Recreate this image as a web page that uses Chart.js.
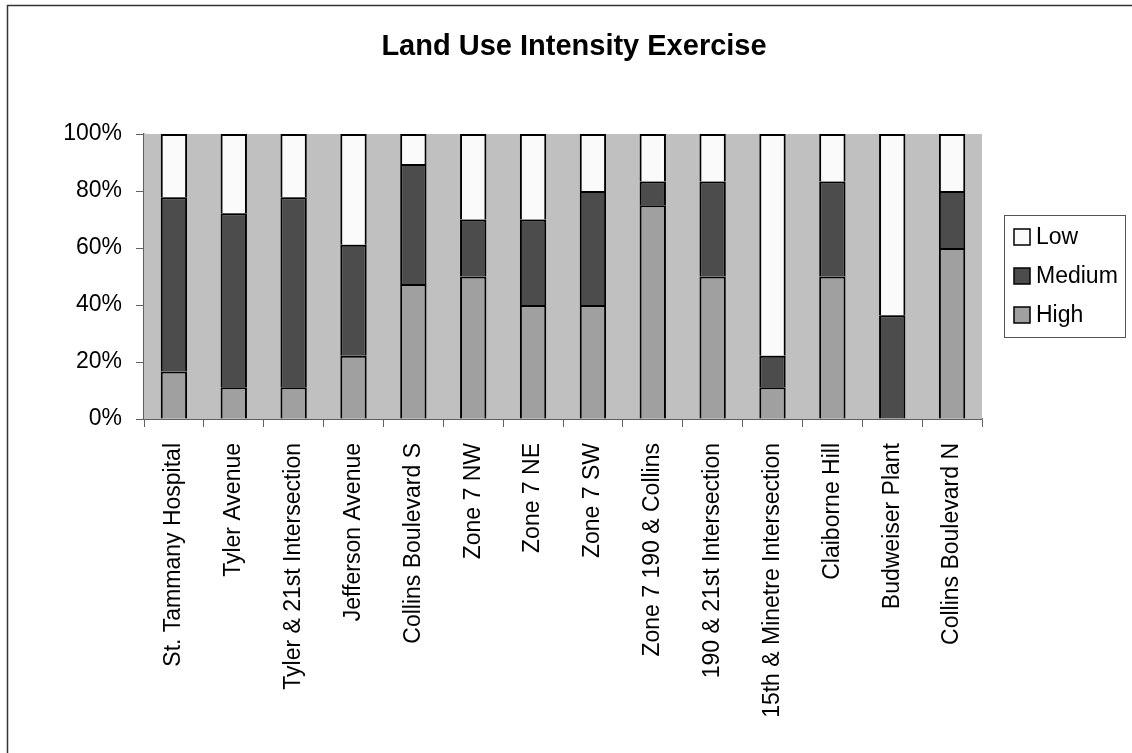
<!DOCTYPE html>
<html>
<head>
<meta charset="utf-8">
<script src="https://cdn.jsdelivr.net/npm/chart.js@4"></script>
<style>
  body { margin: 0; background: #fff; }
  #wrap { width: 1132px; height: 753px; }
</style>
</head>
<body>
<div id="wrap"><canvas id="landUseChart" width="1132" height="753"></canvas></div>
<script>
const sites = [
    'St. Tammany Hospital', 'Tyler Avenue', 'Tyler & 21st Intersection', 'Jefferson Avenue',
    'Collins Boulevard S', 'Zone 7 NW', 'Zone 7 NE', 'Zone 7 SW', 'Zone 7 190 & Collins',
    '190 & 21st Intersection', '15th & Minetre Intersection', 'Claiborne Hill',
    'Budweiser Plant', 'Collins Boulevard N'
];
// percent of each site
const highShare   = [16.7, 11.1, 11.1, 22.2, 47.4, 50, 40, 40, 75, 50, 11.1, 50, 0, 60];
const mediumShare = [61.1, 61.1, 66.7, 38.9, 42.1, 20, 30, 40, 8.3, 33.3, 11.1, 33.3, 36.4, 20];
const lowShare    = [22.2, 27.8, 22.2, 38.9, 10.5, 30, 30, 20, 16.7, 16.7, 77.8, 16.7, 63.6, 20];
const yTicks = [0, 20, 40, 60, 80, 100];

const FONT = '"Liberation Sans", Arial, sans-serif';

// plot background, outer frame and the boxed legend
const excelLook = {
    id: 'excelLook',
    beforeDatasetsDraw(chart) {
        const a = chart.chartArea, ctx = chart.ctx;
        ctx.save();
        ctx.fillStyle = '#C0C0C0';
        ctx.fillRect(a.left, a.top, a.right - a.left, a.bottom - a.top);
        ctx.restore();
    },
    beforeDraw(chart) {
        const ctx = chart.ctx;
        ctx.save();
        ctx.fillStyle = '#fff';
        ctx.fillRect(0, 0, chart.width, chart.height);
        ctx.restore();
    },
    afterDraw(chart) {
        const a = chart.chartArea, ctx = chart.ctx;
        ctx.save();
        ctx.strokeStyle = '#333';
        ctx.lineWidth = 1.5;
        ctx.strokeRect(7.5, 5.5, 1300, 1000);

        const bx = a.right + 22, by = 215;
        ctx.lineWidth = 1;
        ctx.strokeStyle = '#555';
        ctx.strokeRect(bx + 0.5, by + 0.5, 121, 122);
        ctx.font = '23px ' + FONT;
        ctx.textBaseline = 'middle';
        const order = [...chart.data.datasets].reverse();
        order.forEach((ds, i) => {
            const cy = by + 22 + i * 39;
            ctx.fillStyle = ds.backgroundColor;
            ctx.fillRect(bx + 10, cy - 8, 16, 16);
            ctx.strokeStyle = '#000';
            ctx.lineWidth = 1.5;
            ctx.strokeRect(bx + 10, cy - 8, 16, 16);
            ctx.fillStyle = '#000';
            ctx.fillText(ds.label, bx + 32, cy + 1);
        });
        ctx.restore();
    }
};

const barStyle = {
    borderColor: '#000',
    borderWidth: 2,
    categoryPercentage: 1,
    barPercentage: 0.44
};

new Chart(document.getElementById('landUseChart').getContext('2d'), {
    type: 'bar',
    data: {
        labels: sites,
        datasets: [
            { label: 'High', data: highShare, backgroundColor: '#A0A0A0', ...barStyle },
            { label: 'Medium', data: mediumShare, backgroundColor: '#4C4C4C', ...barStyle },
            { label: 'Low', data: lowShare, backgroundColor: '#FAFAFA', ...barStyle }
        ]
    },
    options: {
        responsive: false,
        animation: false,
        layout: { padding: { left: 16, right: 0, top: 0, bottom: 0 } },
        plugins: {
            legend: { display: false },
            tooltip: { enabled: false },
            title: {
                display: true,
                text: 'Land Use Intensity Exercise',
                color: '#000',
                font: { family: FONT, size: 29, weight: 'bold' },
                padding: { top: 30, bottom: 69.2 }
            }
        },
        scales: {
            x: {
                stacked: true,
                grid: { drawOnChartArea: false, drawTicks: true, tickLength: 8, color: '#606060' },
                border: { color: '#606060', width: 1.5 },
                ticks: {
                    autoSkip: false, maxRotation: 90, minRotation: 90, padding: 16,
                    color: '#000', font: { family: FONT, size: 23 }
                },
                afterFit(s) { s.height = 334; }
            },
            y: {
                stacked: true,
                min: 0,
                max: 100,
                afterBuildTicks(s) { s.ticks = yTicks.map(v => ({ value: v })); },
                grid: { color: '#606060', tickLength: 8 },
                border: { color: '#606060', width: 1.5 },
                ticks: {
                    padding: 14, color: '#000', font: { family: FONT, size: 23 },
                    callback: v => v + '%'
                },
                afterFit(s) { s.width = 128; }
            },
            legendRoom: {
                type: 'linear',
                position: 'right',
                grid: { display: false },
                border: { display: false },
                ticks: { display: false },
                afterFit(s) { s.width = 150; }
            }
        }
    },
    plugins: [excelLook]
});
</script>
</body>
</html>
